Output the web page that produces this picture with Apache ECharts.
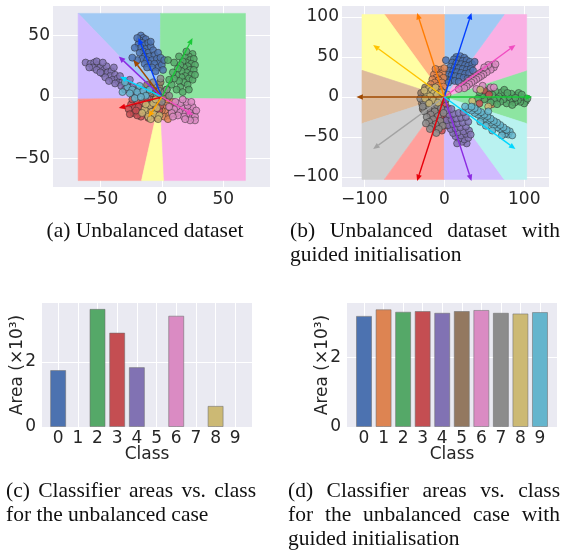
<!DOCTYPE html>
<html>
<head>
<meta charset="utf-8">
<script src="https://cdn.jsdelivr.net/npm/echarts@6/dist/echarts.min.js"></script>
<style>
  html, body { margin: 0; padding: 0; background: #fff; }
  #chart { width: 573px; height: 550px; }
</style>
</head>
<body>
<div id="chart"></div>
<script>
// seaborn palettes
const deep = ['#4C72B0', '#DD8452', '#55A868', '#C44E52', '#8172B3', '#937860', '#DA8BC3', '#8C8C8C', '#CCB974', '#64B5CD']
const pastel = ['#A1C9F4', '#FFB482', '#8DE5A1', '#FF9F9B', '#D0BBFF', '#DEBB9B', '#FAB0E4', '#CFCFCF', '#FFFEA3', '#B9F2F0']
const bright = ['#023EFF', '#FF7C00', '#1AC938', '#E8000B', '#8B2BE2', '#9F4800', '#F14CC1', '#A3A3A3', '#FFC400', '#00D7FF']

const classes = ['0', '1', '2', '3', '4', '5', '6', '7', '8', '9']

// ---- (a) unbalanced dataset ----
const regionClassA = [0, 2, 4, 3, 8, 6]
const regionPolyA = [
  [[-68, 68], [-1, 68], [-1.5, -1]],
  [[-1, 68], [68, 68], [68, -1.6], [-1.5, -1]],
  [[-68, 68], [-1.5, -1], [-68, -1.6]],
  [[-68, -1.6], [-1.5, -1], [-16.5, -68], [-68, -68]],
  [[-1.5, -1], [1.9, -68], [-16.5, -68]],
  [[-1.5, -1], [68, -1.6], [68, -68], [1.9, -68]]
]
const arrowTipA = [[-19, 48], [25, 48], [-23, 30], [-35, 33], [-34, 16.5], [-35, -9], [-11, -16.5], [25.5, -14.6]]
const arrowColorA = ['#023EFF', '#1AC938', '#9F4800', '#8B2BE2', '#00D7FF', '#E8000B', '#FFA500', '#F14CC1']

const ptsA0 = [[-17,50],[-15,48],[-18,46],[-13,47],[-16,44],[-19,43],[-14,42],[-11,44],[-17,40],[-13,39],[-9,41],[-15,37],[-11,36],[-18,36],[-7,38],[-14,33],[-10,33],[-6,34],[-16,31],[-12,30],[-8,30],[-4,31],[-2,28],[-10,27],[-6,27],[-14,27],[-3,24],[0,26],[-8,24],[-20,30],[-24,32],[-12,24],[1,22],[-5,21],[-9,45],[-20,48],[-22,40],[-3,36],[-1,32],[2,30]]
const ptsA1 = [[-2,-3],[1,-8],[3,-12],[5,-5],[-1,-14],[7,-9],[2,-16],[4,-2],[9,-4],[-4,-6],[6,-15],[0,-11],[8,-12],[10,-7],[1,-1],[-3,-17],[5,-18],[11,-14]]
const ptsA2 = [[25,35],[22,33],[19,32],[23,30],[26,31],[20,28],[17,29],[24,27],[27,26],[21,25],[18,24],[15,26],[23,22],[26,22],[20,20],[16,21],[13,23],[24,18],[19,17],[22,15],[16,16],[12,18],[25,14],[18,12],[14,13],[10,15],[21,10],[15,8],[8,10],[12,6],[6,14],[10,28],[5,30],[14,33],[20,37],[27,18],[9,20],[4,6],[17,4],[22,6]]
const ptsA3 = [[-25,-6],[-22,-9],[-20,-4],[-18,-12],[-15,-8],[-23,-13],[-13,-14],[-10,-10],[-17,-16],[-12,-4],[-8,-15],[-6,-8],[-27,-10],[-20,-15],[-14,-2],[-5,-13],[-3,-5],[-9,-6],[-24,-2],[-16,-5],[-11,-17],[-19,-8],[-7,-2],[-2,-11],[-21,-11],[-4,-17],[-26,-14],[-1,-7]]
const ptsA4 = [[-62,28],[-58,27],[-55,28],[-52,26],[-56,24],[-50,24],[-47,22],[-53,22],[-45,25],[-48,19],[-44,20],[-41,21],[-42,17],[-38,18],[-40,14],[-36,15],[-35,12],[-32,13],[-38,11],[-30,10],[-33,9],[-28,11],[-27,7],[-24,8],[-30,6],[-22,5],[-25,4],[-19,5],[-20,2],[-16,3],[-46,16],[-50,20],[-59,24],[-43,13],[-26,14],[-34,17],[-53,29],[-48,28],[-39,24],[-12,2]]
const ptsA5 = [[-3,2],[-6,5],[-9,8],[-2,8],[-12,10],[1,3],[-5,-1],[3,1],[-8,3],[-1,12]]
const ptsA6 = [[26,-12],[24,-15],[22,-17],[27,-16],[20,-14],[23,-10],[25,-8],[19,-11],[21,-7],[17,-13],[16,-9],[14,-12],[18,-16],[12,-8],[15,-5],[10,-10],[20,-4],[24,-4],[13,-15],[8,-13],[27,-19],[23,-19],[11,-4],[17,-2],[6,-8],[9,-16],[19,-18],[28,-11]]
const ptsA7 = [[-2,5],[0,-4],[2,4],[-4,1],[-6,-4],[4,6],[-1,15],[6,1],[-7,12],[-10,4]]
const ptsA8 = [[-12,-12],[-10,-7],[-8,-12],[-14,-10],[-6,-14],[-4,-9],[-11,-16],[-2,-15],[-16,-13],[-7,-5],[-3,-18],[-9,-18],[-13,-6],[-5,-2]]
const ptsA9 = [[-28,8],[-24,6],[-20,4],[-26,3],[-18,9],[-15,5],[-22,-1],[-13,1],[-30,12],[-17,0],[-10,6],[-32,4]]

// ---- (b) with guided initialisation ----
const arrowTipB = [[110, 0], [89, 65], [34, 105], [-34, 105], [-89, 65], [-110, 0], [-89, -65], [-34, -105], [34, -105], [89, -65]]
const arrowClassB = [2, 6, 0, 1, 8, 5, 7, 3, 4, 9]
const squareB = 103

const ptsB0 = [[15,50],[20,51],[25,49],[12,47],[18,46],[23,45],[28,46],[32,44],[10,43],[15,42],[21,41],[26,40],[30,39],[35,41],[8,38],[13,37],[18,36],[23,35],[28,34],[33,35],[6,33],[11,32],[16,31],[21,30],[26,29],[31,30],[5,28],[9,27],[14,26],[19,25],[24,24],[29,23],[3,22],[8,21],[13,20],[18,19],[36,33],[38,44],[2,46],[5,18]]
const ptsB1 = [[-5,34],[-9,31],[-2,30],[-13,28],[-6,27],[-10,24],[-1,24],[-15,22],[-7,21],[-3,18],[-12,18],[-17,16],[-8,14],[-1,13],[-14,11],[-5,9],[-10,7],[-2,5],[-16,6],[-6,2],[-12,1],[-19,12],[0,36],[-11,35],[52,-2],[60,-9]]
const ptsB2 = [[102,-5],[98,-3],[100,-8],[95,-6],[96,0],[92,-4],[90,2],[88,-7],[86,-2],[84,4],[82,-5],[80,0],[78,-8],[76,3],[74,-3],[72,6],[70,-6],[68,1],[66,-2],[64,7],[62,-4],[60,3],[58,-7],[55,1],[52,5],[50,-3],[47,2],[44,6],[42,-2],[93,5],[104,-2],[85,-10],[75,9],[66,-9],[57,10],[79,5],[97,3],[89,-1]]
const ptsB3 = [[-10,-38],[-6,-35],[-13,-33],[-3,-31],[-9,-29],[-15,-27],[0,-27],[-5,-24],[-12,-22],[3,-22],[-8,-19],[-16,-17],[-2,-16],[-11,-13],[5,-14],[-6,-10],[-14,-8],[1,-8],[-9,-4],[-18,-21],[4,-36],[-3,-42],[7,-28],[50,8],[56,3],[44,-8]]
const ptsB4 = [[28,-58],[22,-56],[25,-53],[18,-52],[30,-51],[14,-49],[21,-48],[27,-46],[11,-45],[17,-44],[24,-43],[31,-42],[8,-40],[14,-39],[20,-38],[27,-37],[5,-35],[11,-34],[17,-33],[23,-32],[30,-31],[3,-29],[9,-28],[15,-27],[21,-26],[27,-25],[6,-22],[12,-21],[18,-20],[24,-19],[2,-17],[9,-15],[33,-47],[16,-58]]
const ptsB5 = [[-26,3],[-23,-5],[-28,-8],[-20,6],[-17,-3],[-24,12],[-12,-6],[-15,3],[-7,0],[-29,5],[-10,-14],[-21,-12],[-4,-5],[2,-3],[-27,-15]]
const ptsB6 = [[60,40],[57,38],[62,37],[54,36],[58,34],[51,34],[48,32],[53,31],[45,30],[49,28],[42,28],[46,26],[39,26],[43,24],[36,24],[40,22],[33,22],[37,20],[30,20],[34,18],[27,17],[31,16],[24,15],[28,13],[21,13],[25,11],[18,10],[55,40],[50,37],[64,41],[40,10],[58,12],[62,12],[48,14]]
const ptsB7 = [[-22,-3],[-18,-7],[-24,-10],[-15,-12],[-20,-15],[-25,-18],[-12,-18],[-17,-22],[-22,-25],[-8,-24],[-14,-28],[-19,-31],[-5,-30],[-11,-34],[-16,-37],[-2,-36],[-7,-40],[-21,2],[-26,-6],[-13,-2],[-9,-10],[-4,-14],[-1,-20],[-18,-40],[-23,-33],[-27,-12],[-10,-45],[-30,-2]]
const ptsB8 = [[-20,10],[-16,8],[-22,4],[-13,5],[-18,1],[-9,3],[-24,-2],[-14,-4],[-6,-3],[-19,-8],[-3,6],[-11,12],[-25,8],[-8,-7],[4,3],[45,9],[55,-12],[35,-5]]
const ptsB9 = [[80,-47],[76,-46],[82,-43],[73,-43],[78,-41],[70,-40],[74,-38],[66,-38],[70,-35],[62,-35],[66,-32],[58,-32],[62,-30],[54,-30],[58,-27],[50,-27],[54,-24],[46,-25],[50,-22],[42,-22],[46,-19],[38,-20],[42,-17],[34,-17],[38,-14],[30,-15],[34,-12],[26,-12],[60,-42],[52,-36],[85,-48],[45,-31],[72,-48],[55,-18]]

// ---- (c), (d) classifier areas (x10^3) ----
const areaC = [1.75, 0, 3.63, 2.90, 1.84, 0, 3.42, 0, 0.65, 0]
const areaD = [3.19, 3.38, 3.31, 3.33, 3.28, 3.33, 3.36, 3.28, 3.26, 3.30]

const ticksA = [-50, 0, 50]
const ticksB = [-100, -50, 0, 50, 100]
const ticksBx = [-100, 0, 100]
const ticksClass = [0, 1, 2, 3, 4, 5, 6, 7, 8, 9]
const ticksArea = [0, 2]

// sector of the square where arrow k has the largest dot product
function sectorPoly (k) {
  let poly = [[-squareB, -squareB], [squareB, -squareB], [squareB, squareB], [-squareB, squareB]]
  const wk = arrowTipB[k]
  arrowTipB.forEach((wj, j) => {
    if (j === k) return
    const a = [wk[0] - wj[0], wk[1] - wj[1]]
    const f = p => a[0] * p[0] + a[1] * p[1]
    const out = []
    for (let i = 0; i < poly.length; i++) {
      const p = poly[i]
      const q = poly[(i + 1) % poly.length]
      const fp = f(p)
      const fq = f(q)
      if (fp >= 0) out.push(p)
      if ((fp >= 0) !== (fq >= 0)) {
        const t = fp / (fp - fq)
        out.push([p[0] + t * (q[0] - p[0]), p[1] + t * (q[1] - p[1])])
      }
    }
    poly = out
  })
  return poly
}
const regionPolyB = arrowTipB.map((w, k) => sectorPoly(k))

const minus = v => String(v).replace('-', '\u2212')
const tickFont = { color: '#262626', fontSize: 17, fontFamily: 'DejaVu Sans' }

function valAxis (gi, min, max, ticks, margin) {
  return {
    type: 'value',
    gridIndex: gi,
    min: min,
    max: max,
    axisLine: { show: false },
    axisTick: { show: false, customValues: ticks },
    axisLabel: Object.assign({ customValues: ticks, margin: margin, formatter: minus }, tickFont),
    splitLine: { show: true, lineStyle: { color: '#ffffff', width: 1 } }
  }
}

function regionSeries (gi, polys, cls) {
  return {
    type: 'custom',
    xAxisIndex: gi,
    yAxisIndex: gi,
    silent: true,
    z: 1,
    data: polys.map((p, i) => [0, 0, i]),
    renderItem: function (params, api) {
      const i = params.dataIndex
      const pts = polys[i].map(p => api.coord(p))
      const c = pastel[cls[i]]
      return { type: 'polygon', shape: { points: pts }, style: { fill: c, stroke: c, lineWidth: 0.6 } }
    }
  }
}

function arrowSeries (gi, tips, colors) {
  return {
    type: 'custom',
    xAxisIndex: gi,
    yAxisIndex: gi,
    silent: true,
    z: 4,
    data: tips.map((t, i) => [t[0], t[1], i]),
    renderItem: function (params, api) {
      const c = colors[params.dataIndex]
      const p0 = api.coord([0, 0])
      const p1 = api.coord([api.value(0), api.value(1)])
      const dx = p1[0] - p0[0]
      const dy = p1[1] - p0[1]
      const len = Math.hypot(dx, dy)
      const ux = dx / len
      const uy = dy / len
      const hl = 6.5
      const hw = 2.8
      const bx = p1[0] - ux * hl
      const by = p1[1] - uy * hl
      return {
        type: 'group',
        children: [
          { type: 'line', shape: { x1: p0[0], y1: p0[1], x2: bx, y2: by }, style: { stroke: c, lineWidth: 1.4 } },
          { type: 'polygon', shape: { points: [[p1[0], p1[1]], [bx - uy * hw, by + ux * hw], [bx + uy * hw, by - ux * hw]] }, style: { fill: c } }
        ]
      }
    }
  }
}

function scatterSeries (gi, groups) {
  const data = []
  groups.forEach((pts, c) => pts.forEach(p => data.push([p[0], p[1], c])))
  return {
    type: 'scatter',
    xAxisIndex: gi,
    yAxisIndex: gi,
    silent: true,
    z: 2,
    symbolSize: 7,
    data: data,
    itemStyle: {
      color: p => deep[p.data[2]],
      opacity: 0.85,
      borderColor: '#2a2a2a',
      borderWidth: 0.6
    }
  }
}

function barSeries (gi, values) {
  return {
    type: 'bar',
    xAxisIndex: gi,
    yAxisIndex: gi,
    barWidth: 16,
    silent: true,
    data: values.map((v, i) => [Number(classes[i]), v === 0 ? '-' : v]),
    itemStyle: {
      color: p => deep[p.dataIndex],
      borderColor: 'rgba(110,110,110,0.55)',
      borderWidth: 1
    }
  }
}

// captions (justified like the LaTeX source)
const capFont = 21.5
const capFamily = 'Liberation Serif'
const measure = document.createElement('canvas').getContext('2d')
measure.font = capFont + 'px "' + capFamily + '"'

function textEl (s, x, y, align) {
  return {
    type: 'text',
    x: x,
    y: y,
    style: { text: s, fill: '#111', fontSize: capFont, fontFamily: capFamily, align: align || 'left', verticalAlign: 'middle' }
  }
}
function justified (line, x0, x1, y) {
  const words = line.split(' ')
  const ws = words.map(w => measure.measureText(w).width)
  const gap = (x1 - x0 - ws.reduce((a, b) => a + b, 0)) / (words.length - 1)
  let x = x0
  return words.map((w, i) => {
    const el = textEl(w, x, y)
    x += ws[i] + gap
    return el
  })
}
function axisName (s, x, y, rot) {
  return {
    type: 'text',
    x: x,
    y: y,
    rotation: rot || 0,
    style: { text: s, fill: '#262626', fontSize: 17, fontFamily: 'DejaVu Sans', align: 'center', verticalAlign: 'middle' }
  }
}

const graphics = [].concat(
  [textEl('(a) Unbalanced dataset', 145, 231, 'center')],
  justified('(b) Unbalanced dataset with', 290, 560, 231),
  [textEl('guided initialisation', 290, 255)],
  justified('(c) Classifier areas vs. class', 6, 256, 491),
  [textEl('for the unbalanced case', 6, 515)],
  justified('(d) Classifier areas vs. class', 288, 560, 491),
  justified('for the unbalanced case with', 288, 560, 515),
  [textEl('guided initialisation', 288, 539)],
  [axisName('Area (\u00d710\u00b3)', 18, 365, Math.PI / 2), axisName('Area (\u00d710\u00b3)', 323, 365, Math.PI / 2),
    axisName('Class', 147, 455), axisName('Class', 452, 455)]
)

const gridStyle = { show: true, backgroundColor: '#EAEAF2', borderWidth: 0 }
const option = {
  animation: false,
  grid: [
    Object.assign({ left: 53, top: 6, width: 217, height: 181 }, gridStyle),
    Object.assign({ left: 342, top: 6, width: 207, height: 181 }, gridStyle),
    Object.assign({ left: 42, top: 303, width: 210, height: 124 }, gridStyle),
    Object.assign({ left: 347, top: 303, width: 210, height: 124 }, gridStyle)
  ],
  xAxis: [
    valAxis(0, -88.5, 88, ticksA, 4),
    valAxis(1, -128, 131, ticksBx, 4),
    valAxis(2, -0.82, 9.85, ticksClass, 3),
    valAxis(3, -0.87, 9.87, ticksClass, 3)
  ],
  yAxis: [
    valAxis(0, -73.2, 74, ticksA, 3),
    valAxis(1, -112.5, 113.7, ticksB, 3),
    valAxis(2, 0, 3.81, ticksArea, 6),
    valAxis(3, 0, 3.56, ticksArea, 6)
  ],
  series: [
    regionSeries(0, regionPolyA, regionClassA),
    scatterSeries(0, [ptsA0, ptsA1, ptsA2, ptsA3, ptsA4, ptsA5, ptsA6, ptsA7, ptsA8, ptsA9]),
    arrowSeries(0, arrowTipA, arrowColorA),
    regionSeries(1, regionPolyB, arrowClassB),
    scatterSeries(1, [ptsB0, ptsB1, ptsB2, ptsB3, ptsB4, ptsB5, ptsB6, ptsB7, ptsB8, ptsB9]),
    arrowSeries(1, arrowTipB, arrowClassB.map(c => bright[c])),
    barSeries(2, areaC),
    barSeries(3, areaD)
  ],
  graphic: graphics
}

const chart = echarts.init(document.getElementById('chart'))
chart.setOption(option)
</script>
</body>
</html>
